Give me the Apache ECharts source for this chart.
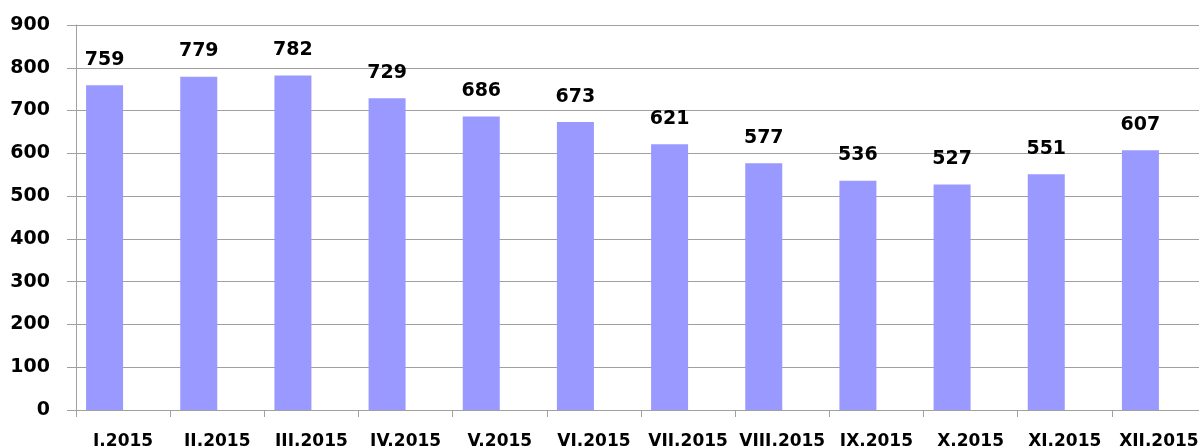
<!DOCTYPE html>
<html lang="en">
<head>
    <meta charset="UTF-8">
    <title>2015</title>
    <script src="https://cdn.jsdelivr.net/npm/echarts@6/dist/echarts.min.js"></script>
    <style type="text/css">
    	html,body{
    		margin: 0;
    		height: 100%;
    		background: #fff;
    	}
    	#chart{
    		width: 1199px;
    		height: 448px;
    	}
    </style>
</head>
<body>
<div id="chart"></div>
<script type="text/javascript">
var months = ['I.2015','II.2015','III.2015','IV.2015','V.2015','VI.2015','VII.2015','VIII.2015','IX.2015','X.2015','XI.2015','XII.2015'];
var values = [759, 779, 782, 729, 686, 673, 621, 577, 536, 527, 551, 607];
var emptyValues = ['-','-','-','-','-','-','-','-','-','-','-','-'];
var yTicks = [0, 900, 100];

var chart = echarts.init(document.getElementById('chart'));
var gridColor = '#a0a0a0';
var font = 'DejaVu Sans';
chart.setOption({
    animation: false,
    grid: {
        left: 76,
        right: -7,
        top: 25,
        bottom: 38,
        containLabel: false,
        outerBoundsMode: 'none'
    },
    xAxis: {
        type: 'category',
        data: months,
        axisLine: {lineStyle: {color: gridColor, width: 1}},
        axisTick: {show: true, length: 7, lineStyle: {color: gridColor}},
        axisLabel: {
            interval: 0,
            margin: 23,
            color: '#000',
            fontFamily: font,
            fontWeight: 'bold',
            fontSize: 17
        }
    },
    yAxis: {
        type: 'value',
        min: yTicks[0],
        max: yTicks[1],
        interval: yTicks[2],
        axisLine: {show: true, lineStyle: {color: gridColor, width: 1}},
        axisTick: {show: true, length: 9, lineStyle: {color: gridColor}},
        splitLine: {lineStyle: {color: gridColor, width: 1}},
        axisLabel: {
            margin: 26,
            color: '#000',
            fontFamily: font,
            fontWeight: 'bold',
            fontSize: 19
        }
    },
    series: [
        {
            type: 'bar',
            data: values,
            barWidth: 37,
            barGap: '0%',
            itemStyle: {color: '#9999ff'},
            label: {
                show: true,
                position: 'top',
                distance: 16,
                color: '#000',
                fontFamily: font,
                fontWeight: 'bold',
                fontSize: 19
            }
        },
        {
            type: 'bar',
            data: emptyValues,
            barWidth: 37,
            barGap: '0%'
        }
    ]
});
</script>
</body>
</html>
